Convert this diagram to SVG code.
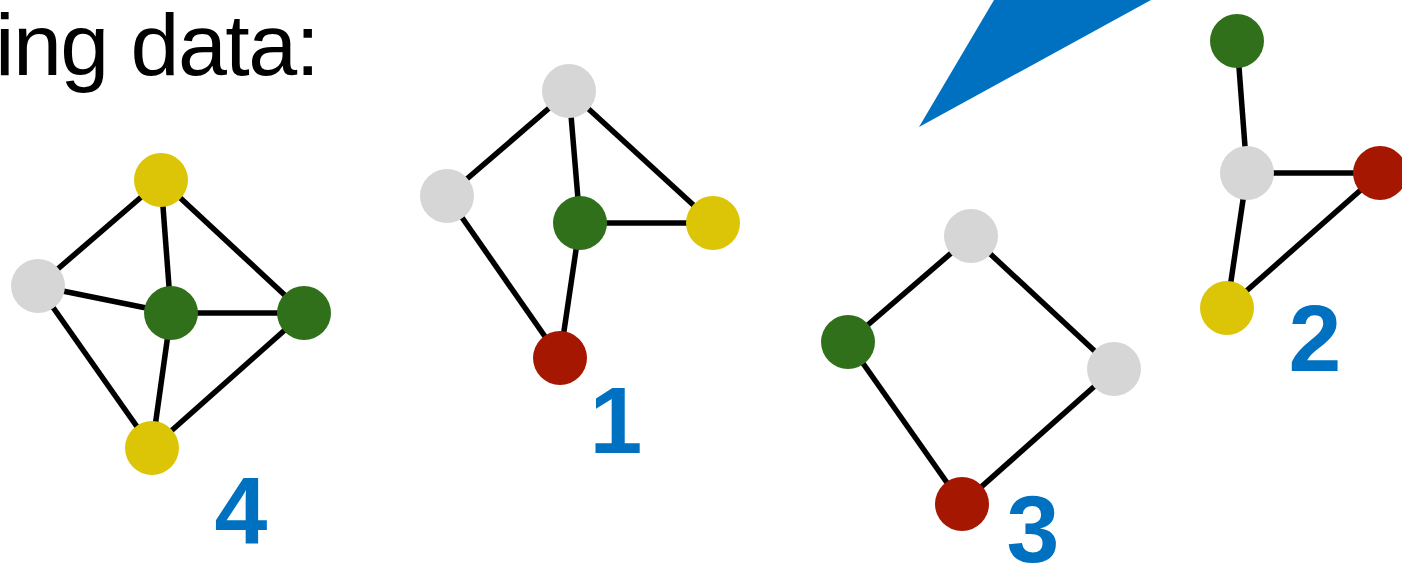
<svg xmlns="http://www.w3.org/2000/svg" width="1402" height="569" viewBox="0 0 1402 569">
  <style>
    .edge { stroke: #000; stroke-width: 5.5; fill: none; }
    .grey { fill: #D6D6D6; }
    .green { fill: #30701A; }
    .yellow { fill: #DCC406; }
    .red { fill: #A51700; }
    .label { font-family: "Liberation Sans", Arial, sans-serif; font-weight: bold; font-size: 95px; fill: #0071C1; text-anchor: middle; }
    .title { font-family: "Liberation Sans", Arial, sans-serif; font-size: 88px; fill: #000; }
  </style>
  <rect width="1402" height="569" fill="#fff"/>

  <text class="title" x="-5" y="75" textLength="325" lengthAdjust="spacing">ing data:</text>

  <!-- pointer wedge -->
  <polygon points="919,127 994,0 1151,0" fill="#0071C1"/>

  <!-- connectors -->
  <g id="connectors">
    <!-- graph 4 -->
    <line class="edge" x1="161" y1="180" x2="38" y2="286"/>
    <line class="edge" x1="161" y1="180" x2="171" y2="313"/>
    <line class="edge" x1="161" y1="180" x2="304" y2="313"/>
    <line class="edge" x1="38" y1="286" x2="171" y2="313"/>
    <line class="edge" x1="38" y1="286" x2="152" y2="448"/>
    <line class="edge" x1="171" y1="313" x2="304" y2="313"/>
    <line class="edge" x1="171" y1="313" x2="152" y2="448"/>
    <line class="edge" x1="304" y1="313" x2="152" y2="448"/>
    <!-- graph 1 -->
    <line class="edge" x1="569" y1="91" x2="447" y2="196"/>
    <line class="edge" x1="569" y1="91" x2="580" y2="223"/>
    <line class="edge" x1="569" y1="91" x2="713" y2="223"/>
    <line class="edge" x1="447" y1="196" x2="560" y2="358"/>
    <line class="edge" x1="580" y1="223" x2="713" y2="223"/>
    <line class="edge" x1="580" y1="223" x2="560" y2="358"/>
    <!-- graph 3 -->
    <line class="edge" x1="971" y1="236" x2="848" y2="342"/>
    <line class="edge" x1="971" y1="236" x2="1114" y2="369"/>
    <line class="edge" x1="848" y1="342" x2="962" y2="504"/>
    <line class="edge" x1="1114" y1="369" x2="962" y2="504"/>
    <!-- graph 2 -->
    <line class="edge" x1="1237" y1="41" x2="1247" y2="173"/>
    <line class="edge" x1="1247" y1="173" x2="1380" y2="173"/>
    <line class="edge" x1="1247" y1="173" x2="1227" y2="308"/>
    <line class="edge" x1="1380" y1="173" x2="1227" y2="308"/>
  </g>

  <!-- graph 4 -->
  <g id="g4-a"><circle class="yellow" cx="161" cy="180" r="27"/></g>
  <g id="g4-b"><circle class="grey" cx="38" cy="286" r="27"/></g>
  <g id="g4-c"><circle class="green" cx="171" cy="313" r="27"/></g>
  <g id="g4-d"><circle class="green" cx="304" cy="313" r="27"/></g>
  <g id="g4-e"><circle class="yellow" cx="152" cy="448" r="27"/></g>
  <g id="g4-label"><text class="label" x="241" y="543">4</text></g>

  <!-- graph 1 -->
  <g id="g1-a"><circle class="grey" cx="569" cy="91" r="27"/></g>
  <g id="g1-b"><circle class="grey" cx="447" cy="196" r="27"/></g>
  <g id="g1-c"><circle class="green" cx="580" cy="223" r="27"/></g>
  <g id="g1-d"><circle class="yellow" cx="713" cy="223" r="27"/></g>
  <g id="g1-e"><circle class="red" cx="560" cy="358" r="27"/></g>
  <g id="g1-label"><text class="label" x="616" y="453">1</text></g>

  <!-- graph 3 -->
  <g id="g3-a"><circle class="grey" cx="971" cy="236" r="27"/></g>
  <g id="g3-b"><circle class="green" cx="848" cy="342" r="27"/></g>
  <g id="g3-c"><circle class="grey" cx="1114" cy="369" r="27"/></g>
  <g id="g3-d"><circle class="red" cx="962" cy="504" r="27"/></g>
  <g id="g3-label"><text class="label" x="1033" y="562">3</text></g>

  <!-- graph 2 -->
  <g id="g2-a"><circle class="green" cx="1237" cy="41" r="27"/></g>
  <g id="g2-b"><circle class="grey" cx="1247" cy="173" r="27"/></g>
  <g id="g2-c"><circle class="red" cx="1380" cy="173" r="27"/></g>
  <g id="g2-d"><circle class="yellow" cx="1227" cy="308" r="27"/></g>
  <g id="g2-label"><text class="label" x="1315" y="371">2</text></g>
</svg>
